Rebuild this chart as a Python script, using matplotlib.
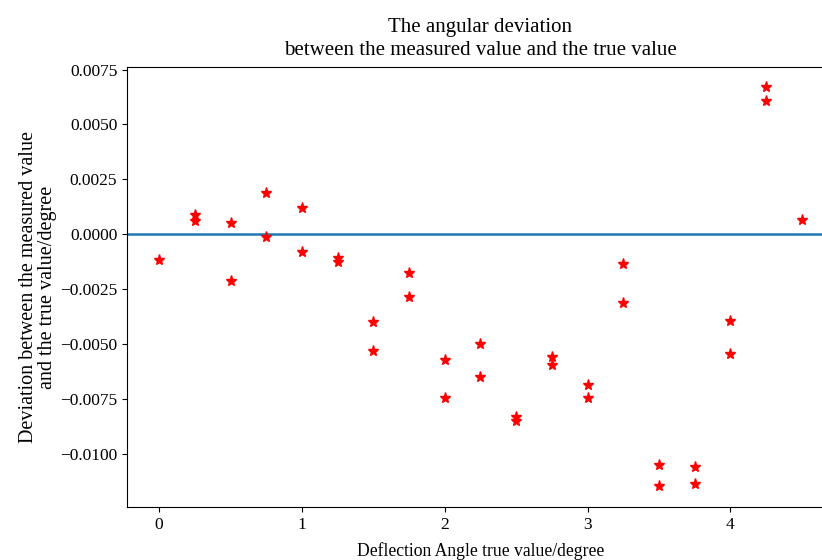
import matplotlib
matplotlib.use("Agg")
import matplotlib.pyplot as plt

plt.rcParams['font.family'] = ['Liberation Serif', 'DejaVu Serif']

# deflection angle true value (degree), two measurements each
angles = [0.0, 0.25, 0.25, 0.5, 0.5, 0.75, 0.75, 1.0, 1.0, 1.25, 1.25,
          1.5, 1.5, 1.75, 1.75, 2.0, 2.0, 2.25, 2.25, 2.5, 2.5,
          2.75, 2.75, 3.0, 3.0, 3.25, 3.25, 3.5, 3.5, 3.75, 3.75,
          4.0, 4.0, 4.25, 4.25, 4.5]
deviation = [-0.00119, 0.00088, 0.00061, 0.00053, -0.00211, 0.00189, -0.00012,
             0.00118, -0.00082, -0.00109, -0.00128,
             -0.00400, -0.00532, -0.00178, -0.00287, -0.00575, -0.00748,
             -0.00498, -0.00651, -0.00834, -0.00852,
             -0.00560, -0.00595, -0.00687, -0.00748, -0.00134, -0.00313,
             -0.01050, -0.01146, -0.01060, -0.01136,
             -0.00396, -0.00547, 0.00671, 0.00609, 0.00063]

fig = plt.figure(figsize=(8.22, 5.6), dpi=100)
ax = fig.add_axes([0.1545, 0.0946, 0.86, 0.785])

ax.axhline(0, color='C0', linewidth=1.8)
ax.plot(angles, deviation, '*', color='red', markersize=8)

ax.set_xlim(-0.225, 4.725)
ax.set_ylim(-0.01243, 0.0076)
ax.set_xticks([0, 1, 2, 3, 4])
ax.set_yticks([0.0075, 0.005, 0.0025, 0.0, -0.0025, -0.005, -0.0075, -0.01])
ax.set_yticklabels(['0.0075', '0.0050', '0.0025', '0.0000', '\u22120.0025',
                    '\u22120.0050', '\u22120.0075', '\u22120.0100'])
ax.tick_params(labelsize=12.5)

ax.set_title('The angular deviation\nbetween the measured value and the true value',
             fontsize=15, linespacing=1.25, pad=9)
ax.set_xlabel('Deflection Angle true value/degree', fontsize=12.7, labelpad=7)
ax.set_ylabel('Deviation between the measured value\nand the true value/degree',
              fontsize=14.5, linespacing=1.0, labelpad=2)

fig.savefig('out.png', dpi=100)
